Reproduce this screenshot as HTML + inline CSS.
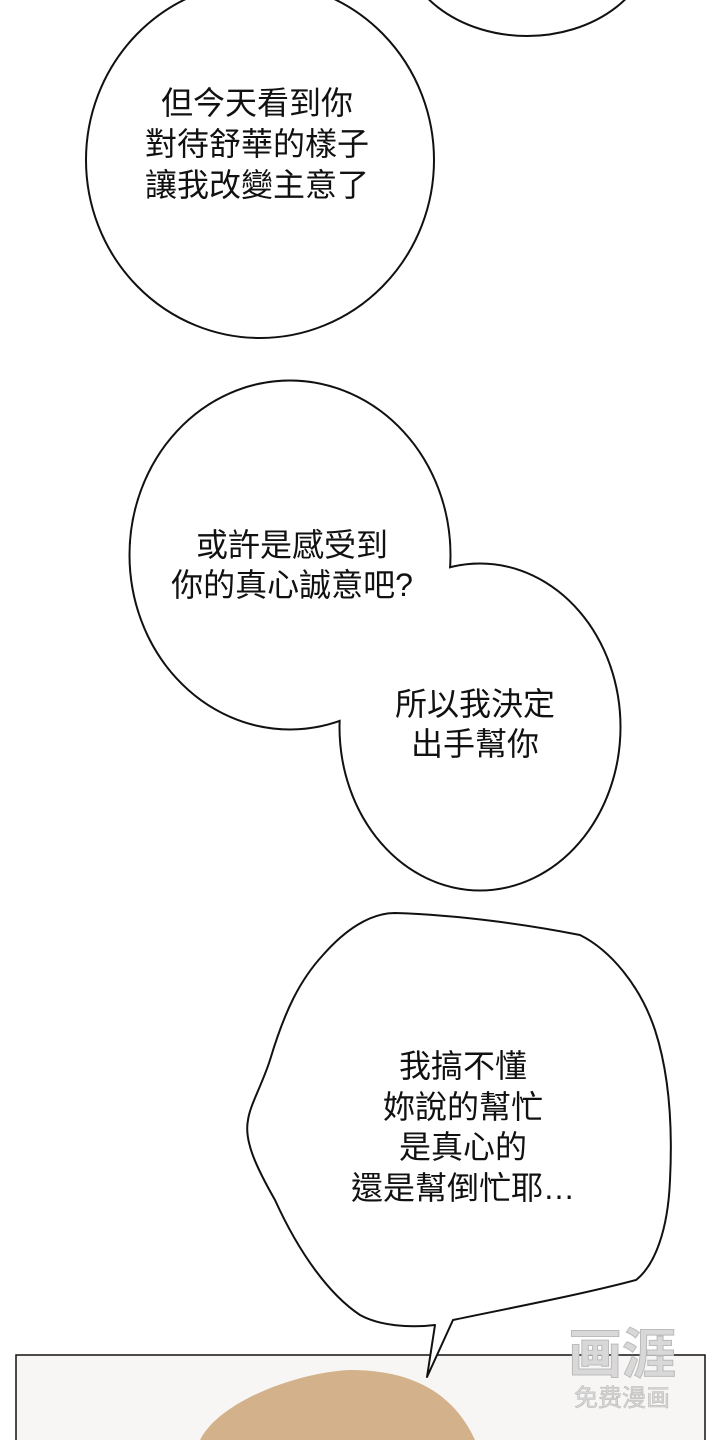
<!DOCTYPE html>
<html><head><meta charset="utf-8"><style>
html,body{margin:0;padding:0;background:#fff;}
svg{display:block;}
text{font-family:"Liberation Sans","Noto Sans CJK TC",sans-serif;font-size:32px;fill:#111;text-anchor:middle;}
</style></head><body>
<svg width="720" height="1440" viewBox="0 0 720 1440" xmlns="http://www.w3.org/2000/svg">
<rect width="720" height="1440" fill="#fff"/>
<ellipse cx="527" cy="-62" rx="126" ry="98" fill="#fff" stroke="#111" stroke-width="2"/>
<ellipse cx="260" cy="160" rx="174" ry="178" fill="#fff" stroke="#111" stroke-width="2"/>
<text x="257" y="114">但今天看到你</text>
<text x="257" y="155">對待舒華的樣子</text>
<text x="257" y="196">讓我改變主意了</text>

<ellipse cx="290" cy="555" rx="160" ry="174" fill="#fff" stroke="#111" stroke-width="3"/>
<ellipse cx="480" cy="727" rx="140" ry="163" fill="#fff" stroke="#111" stroke-width="3"/>
<ellipse cx="290" cy="555" rx="159.5" ry="173.5" fill="#fff"/>
<ellipse cx="480" cy="727" rx="139.5" ry="162.5" fill="#fff"/>
<text x="292" y="556">或許是感受到</text>
<text x="292" y="596">你的真心誠意吧?</text>
<text x="475" y="715">所以我決定</text>
<text x="475" y="755">出手幫你</text>

<rect x="16" y="1355" width="689" height="100" fill="#f8f6f4" stroke="#111" stroke-width="1.5"/>
<path d="M200,1440 C220,1400 300,1372 350,1370 C400,1370 450,1385 475,1440 Z" fill="#d3b18b"/>
<path d="M395,913 C460,915 530,925 580,935 C610,950 640,985 655,1030 C668,1070 673,1120 670,1180 C668,1230 655,1265 636,1280 C580,1295 500,1310 453,1320 L427,1377 L435,1325 C410,1328 380,1326 360,1315 C330,1295 300,1255 275,1200 C255,1165 244,1140 248,1120 C250,1105 262,1085 270,1060 C285,1010 300,980 323,955 C345,930 370,913 395,913 Z" fill="#fff" stroke="#111" stroke-width="2" stroke-linejoin="round"/>
<text x="463" y="1077">我搞不懂</text>
<text x="463" y="1118">妳說的幫忙</text>
<text x="463" y="1158">是真心的</text>
<text x="463" y="1199">還是幫倒忙耶…</text>

<g>
<text x="622" y="1373" style="font-size:54px;fill:#d8d8d8;font-weight:bold;stroke:#bbb;stroke-width:1;">画涯</text>
<text x="622" y="1406" style="font-size:24px;fill:#d8d8d8;stroke:#bbb;stroke-width:0.6;">免费漫画</text>
</g>
</svg>
</body></html>
